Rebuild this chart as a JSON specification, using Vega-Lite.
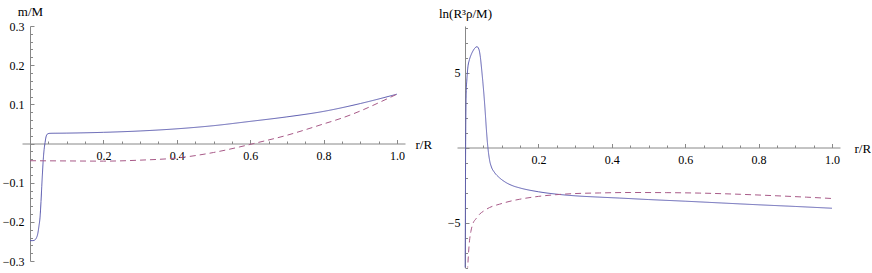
{
  "$schema": "https://vega.github.io/schema/vega-lite/v6.json",
  "background": "white",
  "padding": {"left": 2, "top": 5, "right": 0, "bottom": 0},
  "bounds": "flush",
  "spacing": 52,
  "config": {"view": {"stroke": null}, "font": "Liberation Serif, Times New Roman, serif"},
  "hconcat": [
    {
      "width": 383,
      "height": 235,
      "data": {"values": [
        {"r": 0, "v": -0.248, "s": "a"},
        {"r": 0.008, "v": -0.248, "s": "a"},
        {"r": 0.0136, "v": -0.246, "s": "a"},
        {"r": 0.018, "v": -0.24, "s": "a"},
        {"r": 0.021, "v": -0.231, "s": "a"},
        {"r": 0.0245, "v": -0.21, "s": "a"},
        {"r": 0.0272, "v": -0.19, "s": "a"},
        {"r": 0.03, "v": -0.148, "s": "a"},
        {"r": 0.032, "v": -0.11, "s": "a"},
        {"r": 0.034, "v": -0.075, "s": "a"},
        {"r": 0.0362, "v": -0.04, "s": "a"},
        {"r": 0.0385, "v": -0.015, "s": "a"},
        {"r": 0.041, "v": 0.002, "s": "a"},
        {"r": 0.043, "v": 0.014, "s": "a"},
        {"r": 0.0455, "v": 0.022, "s": "a"},
        {"r": 0.049, "v": 0.025, "s": "a"},
        {"r": 0.0545, "v": 0.026, "s": "a"},
        {"r": 0.1, "v": 0.0265, "s": "a"},
        {"r": 0.2, "v": 0.0285, "s": "a"},
        {"r": 0.3, "v": 0.032, "s": "a"},
        {"r": 0.4, "v": 0.0375, "s": "a"},
        {"r": 0.5, "v": 0.0455, "s": "a"},
        {"r": 0.6, "v": 0.0565, "s": "a"},
        {"r": 0.7, "v": 0.068, "s": "a"},
        {"r": 0.8, "v": 0.082, "s": "a"},
        {"r": 0.9, "v": 0.102, "s": "a"},
        {"r": 1.0, "v": 0.126, "s": "a"},
        {"r": 0, "v": -0.044, "s": "b"},
        {"r": 0.1, "v": -0.0445, "s": "b"},
        {"r": 0.2, "v": -0.045, "s": "b"},
        {"r": 0.3, "v": -0.0425, "s": "b"},
        {"r": 0.4, "v": -0.037, "s": "b"},
        {"r": 0.5, "v": -0.023, "s": "b"},
        {"r": 0.57, "v": -0.009, "s": "b"},
        {"r": 0.61, "v": 0.0, "s": "b"},
        {"r": 0.7, "v": 0.021, "s": "b"},
        {"r": 0.8, "v": 0.05, "s": "b"},
        {"r": 0.85, "v": 0.065, "s": "b"},
        {"r": 0.9, "v": 0.083, "s": "b"},
        {"r": 0.95, "v": 0.104, "s": "b"},
        {"r": 1.0, "v": 0.126, "s": "b"}
      ]},
      "mark": {"type": "line", "strokeWidth": 1, "clip": true, "interpolate": "monotone"},
      "encoding": {
        "x": {
          "field": "r", "type": "quantitative",
          "scale": {"domain": [-0.0218, 1.0218], "nice": false, "zero": false},
          "axis": {
            "orient": "bottom", "offset": -117.5, "grid": false,
            "values": [0,0.05,0.1,0.15,0.2,0.25,0.3,0.35,0.4,0.45,0.5,0.55,0.6,0.65,0.7,0.75,0.8,0.85,0.9,0.95,1.0],
            "domainColor": "#888888", "tickColor": "#888888",
            "tickSize": {"condition": {"test": "abs(datum.value*5 - round(datum.value*5)) < 0.000001", "value": -4}, "value": -2.5},
            "labelExpr": "abs(datum.value*5 - round(datum.value*5)) < 0.000001 && datum.value > 0.01 ? format(datum.value, '.1f') : ''",
            "labelFont": "Liberation Serif, Times New Roman, serif", "labelFontSize": 12, "labelColor": "black",
            "labelPadding": 10.5, "labelFlush": false, "labelOverlap": false,
            "title": "r/R", "titleFont": "Liberation Serif, Times New Roman, serif", "titleFontSize": 13, "titleFontWeight": "normal",
            "titleColor": "black", "titleX": 393, "titleY": 1, "titleAlign": "left", "titleBaseline": "middle", "titleAngle": 0
          }
        },
        "y": {
          "field": "v", "type": "quantitative",
          "scale": {"domain": [-0.3, 0.3], "nice": false, "zero": false},
          "axis": {
            "orient": "left", "offset": -8, "grid": false,
            "values": [-0.3,-0.28,-0.26,-0.24,-0.22,-0.2,-0.18,-0.16,-0.14,-0.12,-0.1,-0.08,-0.06,-0.04,-0.02,0,0.02,0.04,0.06,0.08,0.1,0.12,0.14,0.16,0.18,0.2,0.22,0.24,0.26,0.28,0.3],
            "domainColor": "#888888", "tickColor": "#888888",
            "tickSize": {"condition": {"test": "abs(datum.value*10 - round(datum.value*10)) < 0.000001", "value": -4}, "value": -2.5},
            "labelExpr": "abs(datum.value*10 - round(datum.value*10)) < 0.000001 && abs(datum.value) > 0.001 ? format(datum.value, '.1f') : ''",
            "labelFont": "Liberation Serif, Times New Roman, serif", "labelFontSize": 12, "labelColor": "black",
            "labelPadding": 10, "labelFlush": false, "labelOverlap": false,
            "title": "m/M", "titleFont": "Liberation Serif, Times New Roman, serif", "titleFontSize": 13, "titleFontWeight": "normal",
            "titleColor": "black", "titleX": 0, "titleY": -11, "titleAlign": "center", "titleBaseline": "alphabetic", "titleAngle": 0
          }
        },
        "color": {"field": "s", "type": "nominal", "scale": {"domain": ["a", "b"], "range": ["#5c5cb0", "#a85a88"]}, "legend": null},
        "strokeDash": {"field": "s", "type": "nominal", "scale": {"domain": ["a", "b"], "range": [[1, 0], [6, 4]]}, "legend": null}
      }
    },
    {
      "width": 383,
      "height": 241.5,
      "data": {"values": [
        {"r": 0, "v": -9.5, "s": "a"},
        {"r": 0.0008, "v": -6, "s": "a"},
        {"r": 0.0015, "v": -1, "s": "a"},
        {"r": 0.0025, "v": 2.5, "s": "a"},
        {"r": 0.0035, "v": 3.8, "s": "a"},
        {"r": 0.005, "v": 4.5, "s": "a"},
        {"r": 0.0076, "v": 5.3, "s": "a"},
        {"r": 0.012, "v": 5.85, "s": "a"},
        {"r": 0.017, "v": 6.2, "s": "a"},
        {"r": 0.022, "v": 6.45, "s": "a"},
        {"r": 0.026, "v": 6.6, "s": "a"},
        {"r": 0.03, "v": 6.7, "s": "a"},
        {"r": 0.033, "v": 6.72, "s": "a"},
        {"r": 0.036, "v": 6.65, "s": "a"},
        {"r": 0.039, "v": 6.45, "s": "a"},
        {"r": 0.042, "v": 6.0, "s": "a"},
        {"r": 0.045, "v": 5.3, "s": "a"},
        {"r": 0.0485, "v": 4.4, "s": "a"},
        {"r": 0.052, "v": 3.4, "s": "a"},
        {"r": 0.055, "v": 2.4, "s": "a"},
        {"r": 0.058, "v": 1.3, "s": "a"},
        {"r": 0.061, "v": 0.35, "s": "a"},
        {"r": 0.064, "v": -0.35, "s": "a"},
        {"r": 0.067, "v": -0.85, "s": "a"},
        {"r": 0.072, "v": -1.3, "s": "a"},
        {"r": 0.08, "v": -1.65, "s": "a"},
        {"r": 0.094, "v": -2.02, "s": "a"},
        {"r": 0.108, "v": -2.28, "s": "a"},
        {"r": 0.13, "v": -2.55, "s": "a"},
        {"r": 0.15, "v": -2.7, "s": "a"},
        {"r": 0.2, "v": -2.95, "s": "a"},
        {"r": 0.257, "v": -3.13, "s": "a"},
        {"r": 0.3, "v": -3.22, "s": "a"},
        {"r": 0.367, "v": -3.31, "s": "a"},
        {"r": 0.42, "v": -3.37, "s": "a"},
        {"r": 0.5, "v": -3.47, "s": "a"},
        {"r": 0.6, "v": -3.58, "s": "a"},
        {"r": 0.7, "v": -3.7, "s": "a"},
        {"r": 0.8, "v": -3.82, "s": "a"},
        {"r": 0.9, "v": -3.93, "s": "a"},
        {"r": 1.0, "v": -4.05, "s": "a"},
        {"r": 0.005, "v": -9, "s": "b"},
        {"r": 0.0076, "v": -7.87, "s": "b"},
        {"r": 0.01, "v": -6.9, "s": "b"},
        {"r": 0.0123, "v": -6.22, "s": "b"},
        {"r": 0.016, "v": -5.6, "s": "b"},
        {"r": 0.021, "v": -5.11, "s": "b"},
        {"r": 0.03, "v": -4.75, "s": "b"},
        {"r": 0.0395, "v": -4.45, "s": "b"},
        {"r": 0.05, "v": -4.25, "s": "b"},
        {"r": 0.067, "v": -4.0, "s": "b"},
        {"r": 0.094, "v": -3.78, "s": "b"},
        {"r": 0.12, "v": -3.6, "s": "b"},
        {"r": 0.149, "v": -3.45, "s": "b"},
        {"r": 0.2, "v": -3.26, "s": "b"},
        {"r": 0.257, "v": -3.13, "s": "b"},
        {"r": 0.3, "v": -3.07, "s": "b"},
        {"r": 0.367, "v": -3.03, "s": "b"},
        {"r": 0.45, "v": -3.0, "s": "b"},
        {"r": 0.55, "v": -3.01, "s": "b"},
        {"r": 0.64, "v": -3.04, "s": "b"},
        {"r": 0.75, "v": -3.12, "s": "b"},
        {"r": 0.85, "v": -3.22, "s": "b"},
        {"r": 0.93, "v": -3.31, "s": "b"},
        {"r": 1.0, "v": -3.4, "s": "b"}
      ]},
      "mark": {"type": "line", "strokeWidth": 1, "clip": true, "interpolate": "monotone"},
      "encoding": {
        "x": {
          "field": "r", "type": "quantitative",
          "scale": {"domain": [-0.0218, 1.0218], "nice": false, "zero": false},
          "axis": {
            "orient": "bottom", "offset": -120, "grid": false,
            "values": [0,0.05,0.1,0.15,0.2,0.25,0.3,0.35,0.4,0.45,0.5,0.55,0.6,0.65,0.7,0.75,0.8,0.85,0.9,0.95,1.0],
            "domainColor": "#888888", "tickColor": "#888888",
            "tickSize": {"condition": {"test": "abs(datum.value*5 - round(datum.value*5)) < 0.000001", "value": -4}, "value": -2.5},
            "labelExpr": "abs(datum.value*5 - round(datum.value*5)) < 0.000001 && datum.value > 0.01 ? format(datum.value, '.1f') : ''",
            "labelFont": "Liberation Serif, Times New Roman, serif", "labelFontSize": 12, "labelColor": "black",
            "labelPadding": 10.5, "labelFlush": false, "labelOverlap": false,
            "title": "r/R", "titleFont": "Liberation Serif, Times New Roman, serif", "titleFontSize": 13, "titleFontWeight": "normal",
            "titleColor": "black", "titleX": 397, "titleY": 1, "titleAlign": "left", "titleBaseline": "middle", "titleAngle": 0
          }
        },
        "y": {
          "field": "v", "type": "quantitative",
          "scale": {"domain": [-8, 8.1], "nice": false, "zero": false},
          "axis": {
            "orient": "left", "offset": -8, "grid": false,
            "values": [-8,-7,-6,-5,-4,-3,-2,-1,0,1,2,3,4,5,6,7,8],
            "domainColor": "#888888", "tickColor": "#888888",
            "tickSize": {"condition": {"test": "abs(datum.value % 5) < 0.000001", "value": -4}, "value": -2.5},
            "labelExpr": "abs(datum.value % 5) < 0.000001 && abs(datum.value) > 0.001 ? format(datum.value, 'd') : ''",
            "labelFont": "Liberation Serif, Times New Roman, serif", "labelFontSize": 12, "labelColor": "black",
            "labelPadding": 9, "labelFlush": false, "labelOverlap": false,
            "title": "ln(R³ρ/M)", "titleFont": "Liberation Serif, Times New Roman, serif", "titleFontSize": 13, "titleFontWeight": "normal",
            "titleColor": "black", "titleX": 0, "titleY": -8.5, "titleAlign": "center", "titleBaseline": "alphabetic", "titleAngle": 0
          }
        },
        "color": {"field": "s", "type": "nominal", "scale": {"domain": ["a", "b"], "range": ["#5c5cb0", "#a85a88"]}, "legend": null},
        "strokeDash": {"field": "s", "type": "nominal", "scale": {"domain": ["a", "b"], "range": [[1, 0], [6, 4]]}, "legend": null}
      }
    }
  ]
}
